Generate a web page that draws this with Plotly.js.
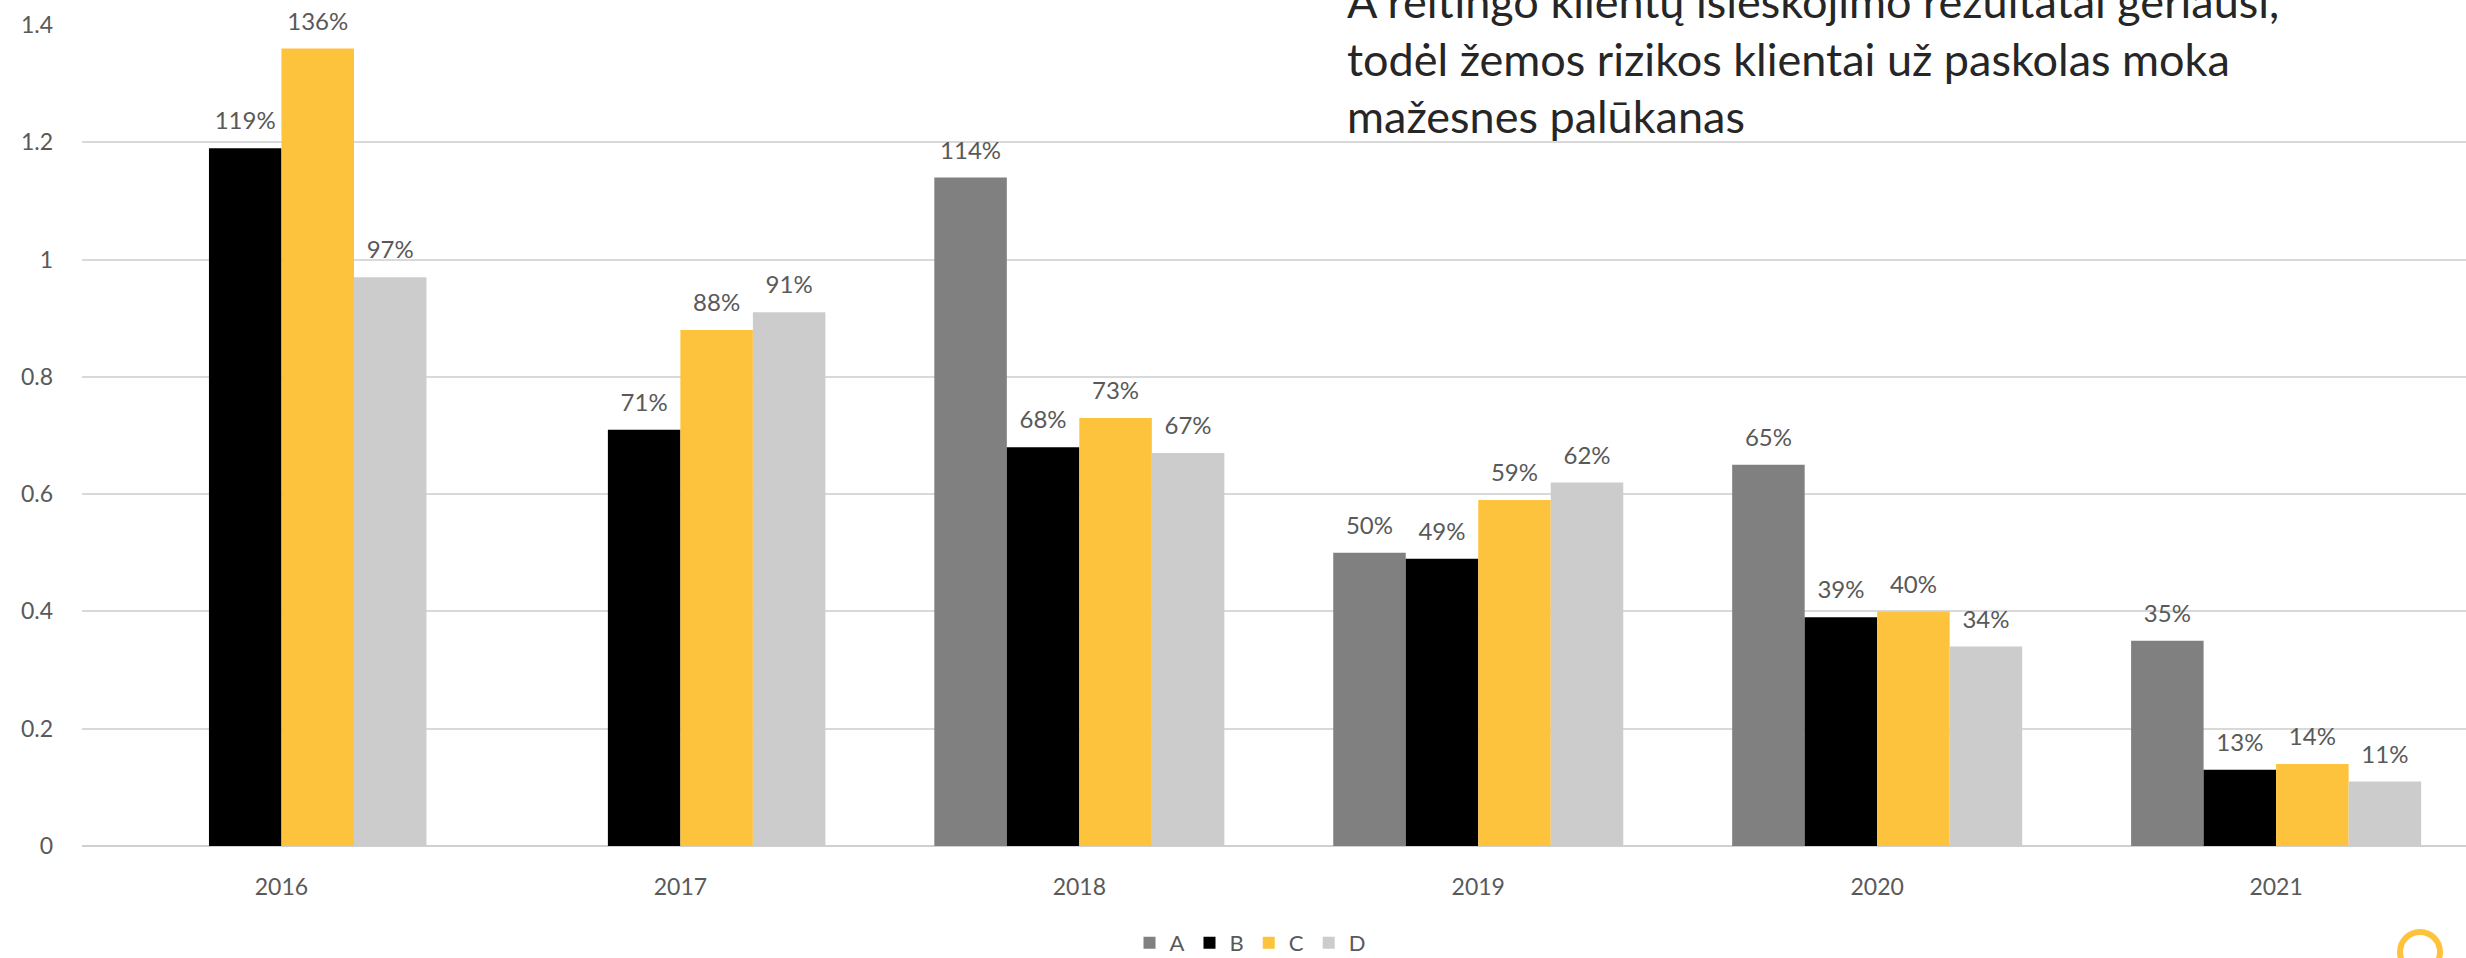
<!DOCTYPE html>
<html>
<head>
<meta charset="utf-8">
<script src="https://cdn.plot.ly/plotly-3.0.1.min.js"></script>
<style>html,body{margin:0;padding:0;background:#fff;}#chart{width:2466px;height:958px;}</style>
</head>
<body>
<div id="chart"></div>
<script>
const years = ['2016', '2017', '2018', '2019', '2020', '2021'];
const seriesNames = ['A', 'B', 'C', 'D'];
const valuesA = [null, null, 1.14, 0.50, 0.65, 0.35];
const valuesB = [1.19, 0.71, 0.68, 0.49, 0.39, 0.13];
const valuesC = [1.36, 0.88, 0.73, 0.59, 0.40, 0.14];
const valuesD = [0.97, 0.91, 0.67, 0.62, 0.34, 0.11];
const titleLines = [
  'A reitingo klientų išieškojimo rezultatai geriausi,',
  'todėl žemos rizikos klientai už paskolas moka',
  'mažesnes palūkanas'
];

const colors = ['#808080', '#000000', '#FDC33C', '#CCCCCC'];
const allValues = [valuesA, valuesB, valuesC, valuesD];
const FONT = 'Lato, "Open Sans", sans-serif';
const GAP = 0.273;

const barTraces = allValues.map((vals, i) => ({
  type: 'bar',
  name: seriesNames[i],
  x: years,
  y: vals,
  marker: {color: colors[i]},
  hoverinfo: 'skip'
}));

// value labels, grouped the same way as the bars
const labelTraces = allValues.map((vals, i) => ({
  type: 'scatter',
  mode: 'markers+text',
  name: seriesNames[i] + ' labels',
  showlegend: false,
  x: years,
  y: vals,
  marker: {size: 19, opacity: 0, color: colors[i]},
  text: vals.map(v => v == null ? '' : Math.round(v * 100) + '%'),
  textposition: 'top center',
  textfont: {family: FONT, size: 24, color: '#595959'},
  cliponaxis: false,
  hoverinfo: 'skip'
}));

const annotations = titleLines.map((t, i) => ({
  xref: 'paper', yref: 'paper',
  x: (1345 - 82) / 2384, y: 1 + (25 - (1 + i * 57.5)) / 821,
  xanchor: 'left', yanchor: 'middle',
  text: t, showarrow: false,
  font: {family: FONT, size: 45, color: '#262626'}
}));

const layout = {
  width: 2466, height: 958,
  margin: {l: 82, r: 0, t: 25, b: 112, pad: 0, autoexpand: false},
  paper_bgcolor: '#ffffff', plot_bgcolor: '#ffffff',
  barmode: 'group', bargap: GAP, bargroupgap: 0,
  scattermode: 'group', scattergap: GAP,
  font: {family: FONT, size: 22, color: '#595959'},
  showlegend: true,
  legend: {orientation: 'h', x: (1250 - 82) / 2384, xanchor: 'center', y: -(943 - 846) / 821, yanchor: 'middle',
           font: {family: FONT, size: 22, color: '#595959'}, itemwidth: 30, traceorder: 'normal',
           tracegroupgap: 0},
  xaxis: {type: 'category', range: [-0.5, 5.476], showgrid: false, zeroline: false,
          showline: false, ticks: '', ticklabelstandoff: 25,
          tickfont: {family: FONT, size: 23, color: '#595959'}},
  yaxis: {range: [0, 1.4], dtick: 0.2, showgrid: true, gridcolor: '#D9D9D9', gridwidth: 2,
          zeroline: true, zerolinecolor: '#D0D0D0', zerolinewidth: 2, showline: false,
          ticks: '', ticklabelstandoff: 28,
          tickfont: {family: FONT, size: 23, color: '#595959'}},
  annotations: annotations,
  shapes: [{
    type: 'circle', xref: 'paper', yref: 'paper',
    x0: (2400 - 82) / 2384, x1: (2440 - 82) / 2384,
    y0: -(972 - 846) / 821, y1: -(932 - 846) / 821,
    line: {color: '#FDC33C', width: 6}, fillcolor: 'rgba(0,0,0,0)'
  }]
};

Plotly.newPlot('chart', barTraces.concat(labelTraces), layout, {displayModeBar: false, staticPlot: true});
</script>
</body>
</html>
